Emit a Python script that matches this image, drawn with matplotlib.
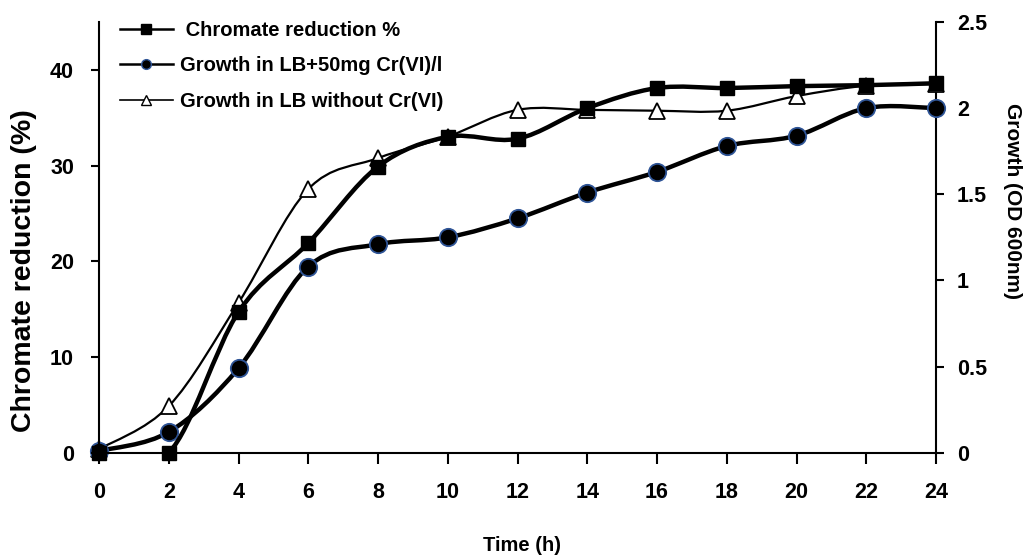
import matplotlib
matplotlib.use('Agg')
import matplotlib.pyplot as plt
from matplotlib.path import Path
from matplotlib.patches import PathPatch
from matplotlib.lines import Line2D
import numpy as np

plt.rcParams['font.family'] = ['Liberation Sans', 'DejaVu Sans']
plt.rcParams['font.weight'] = 'bold'

# Data
time_h = [0, 2, 4, 6, 8, 10, 12, 14, 16, 18, 20, 22, 24]
chromate_red = [0, 0, 14.7, 21.9, 29.9, 33.0, 32.8, 36.0, 38.1, 38.1, 38.3, 38.4, 38.6]
growth_cr = [0.01, 0.12, 0.49, 1.08, 1.21, 1.25, 1.36, 1.51, 1.63, 1.78, 1.84, 2.0, 2.0]
growth_lb = [0.02, 0.27, 0.87, 1.53, 1.71, 1.835, 1.99, 1.99, 1.985, 1.985, 2.07, 2.13, 2.14]

labels = [' Chromate reduction %', 'Growth in LB+50mg Cr(VI)/l', 'Growth in LB without Cr(VI)']


def smooth_path(x, y):
    # Catmull-Rom style Bezier like Excel's smoothed lines
    x = np.asarray(x, float)
    y = np.asarray(y, float)
    pts = np.column_stack([x, y])
    n = len(pts)
    verts = [pts[0]]
    codes = [Path.MOVETO]
    for i in range(n - 1):
        p0 = pts[i - 1] if i > 0 else pts[i]
        p1 = pts[i]
        p2 = pts[i + 1]
        p3 = pts[i + 2] if i + 2 < n else pts[i + 1]
        c1 = p1 + (p2 - p0) / 6.0
        c2 = p2 - (p3 - p1) / 6.0
        verts += [c1, c2, p2]
        codes += [Path.CURVE4] * 3
    return Path(verts, codes)


fig = plt.figure(figsize=(10.27, 5.57), dpi=100)
ax = fig.add_axes([0.0964, 0.1873, 0.815, 0.7732])
ax2 = ax.twinx()

# triangles series (thin line), right axis
ax2.add_patch(PathPatch(smooth_path(time_h, growth_lb), fill=False, lw=1.6, color='black', zorder=2))
ax2.plot(time_h, growth_lb, ls='none', marker='^', ms=11, mfc='white', mec='black', mew=1.3, zorder=3,
         clip_on=False)

# circles series, right axis
ax2.add_patch(PathPatch(smooth_path(time_h, growth_cr), fill=False, lw=3.2, color='black', zorder=4))
ax2.plot(time_h, growth_cr, ls='none', marker='o', ms=12.5, mfc='black', mec='#2f5597', mew=1.3, zorder=5,
         clip_on=False)

# squares series, left axis
ax.add_patch(PathPatch(smooth_path(time_h, chromate_red), fill=False, lw=3.2, color='black', zorder=4))
ax.plot(time_h, chromate_red, ls='none', marker='s', ms=9.5, mfc='black', mec='black', zorder=5, clip_on=False)
ax.set_zorder(ax2.get_zorder() + 1)
ax.patch.set_visible(False)

ax.set_xlim(0, 24)
ax.set_ylim(0, 45)
ax2.set_ylim(0, 2.5)
ax.set_xticks(range(0, 25, 2))
ax.set_yticks([0, 10, 20, 30, 40])
ax2.set_yticks([0, 0.5, 1, 1.5, 2, 2.5])
ax2.set_yticklabels(['0', '0.5', '1', '1.5', '2', '2.5'])

for a in (ax, ax2):
    a.spines['top'].set_visible(False)
    for s in a.spines.values():
        s.set_linewidth(1.5)
ax.spines['right'].set_visible(False)
ax2.spines['left'].set_visible(False)
ax2.spines['bottom'].set_visible(False)

ax.tick_params(axis='x', direction='out', length=8, width=1.5, labelsize=15.5, pad=13)
ax.tick_params(axis='y', direction='out', length=6, width=1.5, labelsize=15.5, pad=12)
ax2.tick_params(axis='y', direction='out', length=6, width=1.5, labelsize=15.5, pad=9)
for t in ax.get_xticklabels() + ax.get_yticklabels() + ax2.get_yticklabels():
    t.set_fontweight('bold')

fig.text(0.023, 0.515, 'Chromate reduction (%)', rotation=90, ha='center', va='center', fontsize=20.5, fontweight='bold')
fig.text(0.986, 0.64, 'Growth (OD 600nm)', rotation=270, ha='center', va='center', fontsize=15, fontweight='bold')
fig.text(0.508, 0.021, 'Time (h)', ha='center', va='center', fontsize=14.5, fontweight='bold')

handles = [
    Line2D([], [], color='black', lw=1.8, marker='s', ms=7, mfc='black', mec='black'),
    Line2D([], [], color='black', lw=1.8, marker='o', ms=7, mfc='black', mec='#2f5597', mew=1.0),
    Line2D([], [], color='black', lw=1.2, marker='^', ms=7, mfc='white', mec='black', mew=1.0),
]
leg = fig.legend(handles, labels, loc='upper left', bbox_to_anchor=(0.117, 0.963), frameon=False,
                 fontsize=14.5, handlelength=2.6, handletextpad=0.35, labelspacing=0.83,
                 borderpad=0, borderaxespad=0)
for t in leg.get_texts():
    t.set_fontweight('bold')

fig.savefig('out.png', dpi=100)
